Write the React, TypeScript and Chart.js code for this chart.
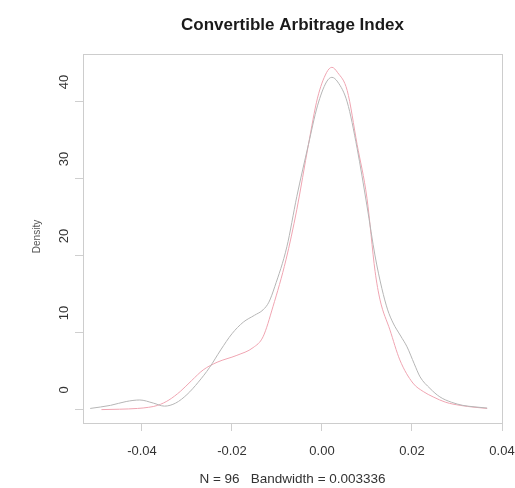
import React, { useEffect, useRef } from 'react';
import { Chart, registerables } from 'chart.js';

Chart.register(...registerables);

// ---- text ----
const titleText = 'Convertible Arbitrage Index';
const subText = 'N = 96   Bandwidth = 0.003336';
const yTitleText = 'Density';

// ---- axes ----
const xTicks = [-0.04, -0.02, 0, 0.02, 0.04];
const xTickLabels = ['-0.04', '-0.02', '0.00', '0.02', '0.04'];
const yTicks = [0, 10, 20, 30, 40];
const yTickLabels = ['0', '10', '20', '30', '40'];
const xRange = [-0.0531, 0.04];
const yRange = [-1.69, 46.23];

// ---- grey density curve ----
const greyX = [-0.0515, -0.047, -0.0435, -0.0405, -0.0375, -0.035, -0.0325, -0.03, -0.0275, -0.025, -0.0225, -0.02, -0.0175, -0.015, -0.0131, -0.0118, -0.0105, -0.0078, -0.0056, -0.003, -0.001, 0.001, 0.0022, 0.0035, 0.0056, 0.0078, 0.01, 0.0118, 0.0133, 0.0146, 0.0158, 0.0175, 0.0189, 0.0205, 0.0218, 0.024, 0.0262, 0.0288, 0.0313, 0.034, 0.0367];
const greyY = [0.2, 0.6, 1.1, 1.3, 0.9, 0.5, 0.9, 2.0, 3.6, 5.5, 7.8, 9.9, 11.4, 12.3, 13.0, 14.0, 16.0, 21.2, 27.7, 34.5, 39.5, 42.6, 43.2, 42.6, 40.0, 34.0, 26.5, 20.0, 15.8, 13.0, 11.3, 9.6, 8.2, 6.0, 4.3, 2.8, 1.7, 1.0, 0.6, 0.4, 0.25];

// ---- pink density curve ----
const pinkX = [-0.049, -0.045, -0.041, -0.0385, -0.0365, -0.034, -0.0315, -0.029, -0.0264, -0.0233, -0.0189, -0.0153, -0.0131, -0.0109, -0.008, -0.0056, -0.003, -0.001, 0.001, 0.0022, 0.0035, 0.0056, 0.0078, 0.01, 0.0118, 0.0129, 0.0151, 0.0173, 0.0202, 0.0225, 0.0247, 0.0275, 0.0307, 0.034, 0.0367];
const pinkY = [0.05, 0.1, 0.2, 0.35, 0.6, 1.3, 2.4, 3.8, 5.2, 6.2, 7.1, 8.1, 9.5, 13.4, 19.5, 26.0, 34.5, 40.5, 43.8, 44.5, 43.8, 41.5, 34.5, 27.5, 18.0, 14.3, 10.4, 6.5, 3.5, 2.4, 1.7, 1.0, 0.6, 0.35, 0.2];

const FONT = 'Arial, "Liberation Sans", Helvetica, sans-serif';
const YW = 40;
const XH = 40;

const framePlugin = {
  id: 'frameAndText',
  afterDraw(chart: any) {
    const { ctx, chartArea } = chart;
    const { left, right, top, bottom } = chartArea;
    ctx.save();
    ctx.strokeStyle = '#cdcdcd';
    ctx.lineWidth = 1;
    ctx.strokeRect(Math.round(left) + 0.5, Math.round(top) + 0.5, Math.round(right - left), Math.round(bottom - top));
    const cx = (left + right) / 2;
    ctx.fillStyle = '#1a1a1a';
    ctx.textAlign = 'center';
    ctx.textBaseline = 'middle';
    ctx.font = `bold 17px ${FONT}`;
    ctx.fillText(titleText, cx, 25);
    ctx.fillStyle = '#333';
    ctx.font = `13.5px ${FONT}`;
    ctx.fillText(subText, cx, 479);
    ctx.translate(37, (top + bottom) / 2 - 2);
    ctx.rotate(-Math.PI / 2);
    ctx.font = `10px ${FONT}`;
    ctx.fillStyle = '#555';
    ctx.fillText(yTitleText, 0, 0);
    ctx.restore();
  },
};

export default function App() {
  const ref = useRef<HTMLCanvasElement>(null);
  useEffect(() => {
    const common = {
      showLine: true,
      borderWidth: 1,
      pointRadius: 0,
      cubicInterpolationMode: 'monotone' as const,
      fill: false,
    };
    const chart = new Chart(ref.current as HTMLCanvasElement, {
      type: 'scatter',
      data: {
        datasets: [
          { ...common, data: greyX.map((x, i) => ({ x, y: greyY[i] })), borderColor: 'rgb(182,182,182)' },
          { ...common, data: pinkX.map((x, i) => ({ x, y: pinkY[i] })), borderColor: 'rgb(240,165,178)' },
        ],
      },
      options: {
        responsive: false,
        animation: false,
        devicePixelRatio: 1,
        layout: { padding: { left: 83 - YW, top: 54, right: 13, bottom: 488 - 423 - XH } },
        plugins: { legend: { display: false }, tooltip: { enabled: false }, title: { display: false } },
        scales: {
          x: {
            type: 'linear',
            min: xRange[0],
            max: xRange[1],
            afterBuildTicks: (s: any) => { s.ticks = xTicks.map((v) => ({ value: v })); },
            afterFit: (s: any) => { s.height = XH; s.paddingLeft = 0; s.paddingRight = 0; },
            ticks: {
              autoSkip: false,
              maxRotation: 0,
              padding: 13,
              color: '#333',
              font: { family: FONT, size: 13 },
              callback: (_v: any, i: number) => xTickLabels[i],
            },
            grid: { display: true, drawOnChartArea: false, drawTicks: true, tickLength: 8, color: '#cfcfcf', tickColor: '#cfcfcf' },
            border: { display: false },
          },
          y: {
            type: 'linear',
            min: yRange[0],
            max: yRange[1],
            afterBuildTicks: (s: any) => { s.ticks = yTicks.map((v) => ({ value: v })); },
            afterFit: (s: any) => { s.width = YW; s.paddingTop = 0; s.paddingBottom = 0; },
            ticks: {
              autoSkip: false,
              minRotation: 90,
              maxRotation: 90,
              crossAlign: 'center',
              labelOffset: -20,
              padding: 3,
              color: '#333',
              font: { family: FONT, size: 13 },
              callback: (_v: any, i: number) => yTickLabels[i],
            },
            grid: { display: true, drawOnChartArea: false, drawTicks: true, tickLength: 8, color: '#cfcfcf', tickColor: '#cfcfcf' },
            border: { display: false },
          },
        },
      },
      plugins: [framePlugin],
    });
    return () => chart.destroy();
  }, []);
  return (
    <div style={{ position: 'fixed', left: 0, top: 0, width: 515, height: 488, background: '#fff' }}>
      <canvas ref={ref} width={515} height={488} style={{ display: 'block' }} />
    </div>
  );
}
